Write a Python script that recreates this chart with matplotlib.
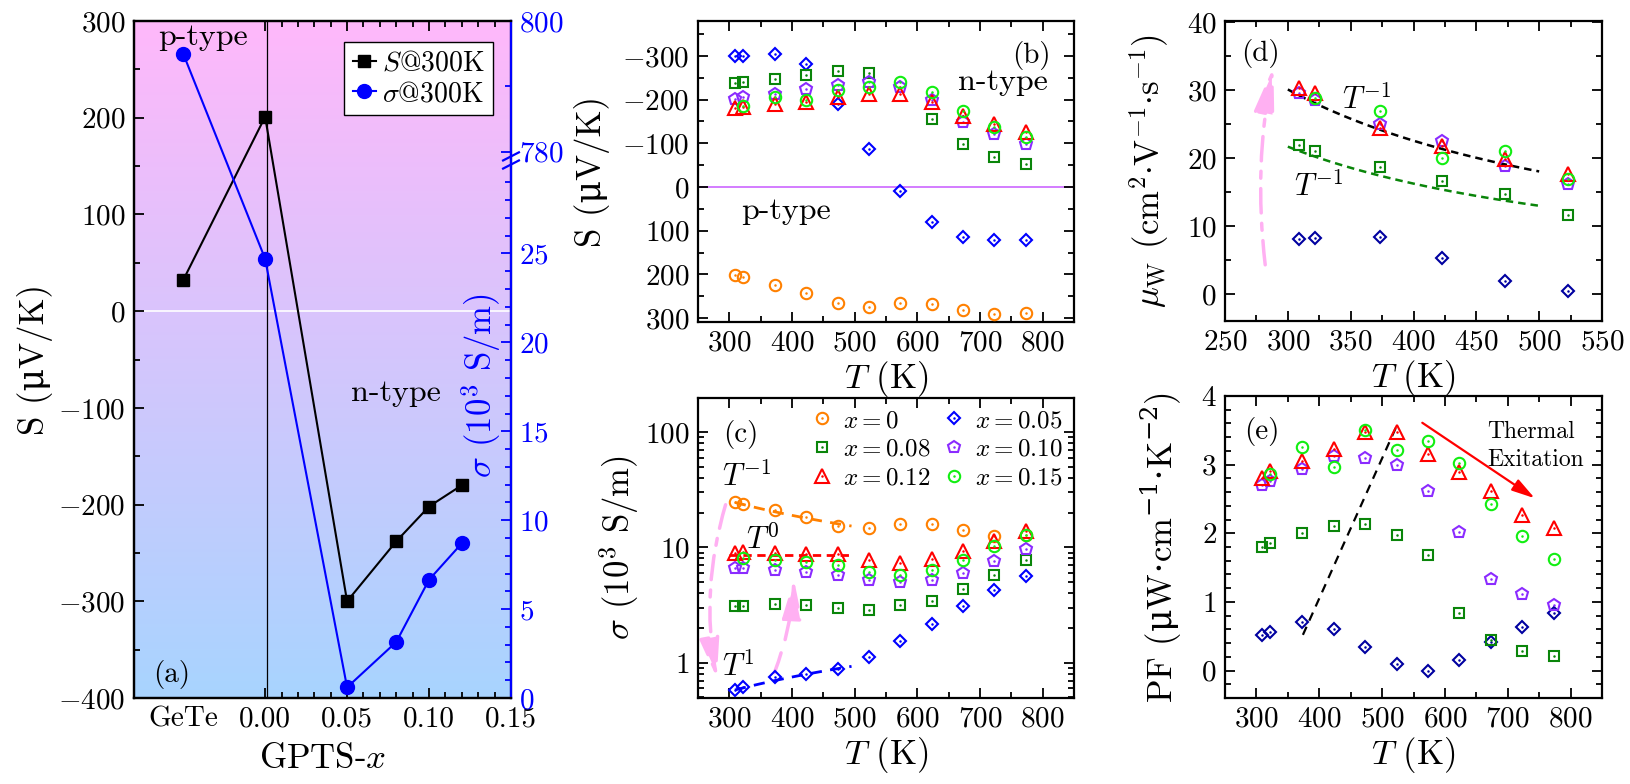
import numpy as np
import matplotlib
matplotlib.use('Agg')
import matplotlib.pyplot as plt
from matplotlib import ticker
from matplotlib.patches import FancyArrowPatch
from matplotlib.lines import Line2D

plt.rcParams['font.family'] = ['cmr10', 'DejaVu Serif']
plt.rcParams['mathtext.fontset'] = 'cm'
plt.rcParams['axes.formatter.use_mathtext'] = True

nan = np.nan

# ---------------- data ----------------
# (a) 300 K properties versus GPTS content
a_pos = [-0.05, 0.00, 0.05, 0.08, 0.10, 0.12]
a_ticks = [-0.05, 0.00, 0.05, 0.10, 0.15]
a_ticklabels = ['GeTe', '0.00', '0.05', '0.10', '0.15']
a_S = [32, 201, -300, -238, -202, -180]          # uV/K
a_sigma = [795, 24.7, 0.6, 3.15, 6.65, 8.7]      # 10^3 S/m

# temperatures (K)
T = [309, 322, 373, 423, 473, 523, 573, 623, 673, 723, 773]

# (b) Seebeck coefficient (uV/K)
S_x000 = [201, 205, 224, 243, 266, 274, 266, 268, 282, 291, 288]
S_x005 = [-300, -300, -305, -281, -190, -87, 9, 80, 115, 121, 122]
S_x008 = [-238, -241, -247, -256, -266, -262, nan, -156, -99, -69, -52]
S_x010 = [-201, -207, -214, -224, -233, -240, -228, -199, -149, -121, -98]
S_x012 = [-180, -184, -189, -195, -205, -212, -212, -194, -163, -144, -127]
S_x015 = [nan, -186, -205, -199, -222, -228, -240, -217, -175, -138, -114]

# (c) electrical conductivity (10^3 S/m)
sig_x000 = [24.5, 23.9, 21.1, 18.4, 15.2, 14.7, 16.0, 15.8, 14.0, 12.5, 12.8]
sig_x005 = [0.58, 0.615, 0.75, 0.79, 0.89, 1.13, 1.54, 2.18, 3.10, 4.24, 5.6]
sig_x008 = [3.12, 3.12, 3.25, 3.16, 2.98, 2.86, 3.16, 3.42, 4.32, 5.75, 7.77]
sig_x010 = [6.62, 6.58, 6.4, 6.07, 5.8, 5.25, 4.97, 5.25, 5.99, 7.66, 9.68]
sig_x012 = [8.93, 9.05, 8.93, 8.8, 8.7, 7.8, 7.3, 7.9, 9.3, 11.4, 13.8]
sig_x015 = [nan, 8.03, 7.77, 7.4, 7.03, 6.07, 5.8, 6.4, 7.8, 10.2, 12.7]

# (d) weighted mobility (cm2/V/s), first six temperatures
T_mu = [309, 322, 373, 423, 473, 523]
mu_x005 = [8.1, 8.3, 8.5, 5.3, 1.9, 0.5]
mu_x008 = [21.9, 21.1, 18.7, 16.7, 14.8, 11.7]
mu_x010 = [29.6, 28.6, 25.0, 22.6, 18.9, 16.2]
mu_x012 = [30.3, 29.6, 24.5, 21.8, 19.9, 17.7]
mu_x015 = [nan, 28.8, 26.9, 20.0, 21.1, 16.9]

# (e) power factor (uW cm^-1 K^-2)
pf_x005 = [0.52, 0.56, 0.71, 0.61, 0.34, 0.09, 0.0, 0.15, 0.41, 0.63, 0.84]
pf_x008 = [1.80, 1.86, 2.00, 2.11, 2.14, 1.98, 1.69, 0.84, 0.44, 0.29, 0.21]
pf_x010 = [2.71, 2.76, 2.94, 3.13, 3.09, 2.99, 2.61, 2.02, 1.34, 1.12, 0.95]
pf_x012 = [2.81, 2.91, 3.06, 3.23, 3.48, 3.47, 3.15, 2.89, 2.61, 2.27, 2.07]
pf_x015 = [nan, 2.86, 3.26, 2.96, 3.50, 3.21, 3.34, 3.03, 2.42, 1.96, 1.63]

# power-law guide lines: (prefactor, exponent, Tmin, Tmax)
fitc_orange = (7570.0, -1, 309, 495)
fitc_red = (8.5, 0, 300, 495)
fitc_blue = (0.001877, 1, 309, 495)
fitd_black = (9030.0, -1, 300, 500)
fitd_green = (6510.0, -1, 300, 500)
# guide line in (e): (T, PF) end points
guide_e_T = [374, 522]
guide_e_pf = [0.52, 3.54]

# ---------------- styles ----------------
STY = {
    'x000': dict(marker='o', color='#FF8000', ms=8.2),
    'x005': dict(marker='D', color='#0000FF', ms=6.6),
    'x008': dict(marker='s', color='#0A850A', ms=7.6),
    'x010': dict(marker='p', color='#8B2BFF', ms=9.2),
    'x012': dict(marker='^', color='#FF0000', ms=9.4),
    'x015': dict(marker='o', color='#11EE11', ms=8.2),
}
NAVY = '#0000A0'
PINK = '#FFB0F2'
TICK = 21
LAB = 25
ANN = 22


def pts(ax, x, y, key, color=None):
    st = STY[key]
    c = color or st['color']
    h1, = ax.plot(x, y, ls='none', marker=st['marker'], ms=st['ms'], mfc='none',
                  mec=c, mew=1.5, zorder=3)
    h2, = ax.plot(x, y, ls='none', marker='o', ms=1.8, mfc=c, mec='none', zorder=3)
    return (h1, h2)


def style(ax):
    ax.tick_params(which='both', direction='in', top=True, right=True,
                   labelsize=TICK, width=1.3, pad=6)
    ax.tick_params(which='major', length=7)
    ax.tick_params(which='minor', length=4)
    for s in ax.spines.values():
        s.set_linewidth(1.6)


def guide(ax, p, **kw):
    A, n, t0, t1 = p
    tt = np.linspace(t0, t1, 60)
    ax.plot(tt, A * tt ** n, **kw)


def arrow(ax, p0, p1, rad, ls, color, lw, hl, hw, ms=20, z=1):
    a = FancyArrowPatch(p0, p1, arrowstyle=f'-|>,head_length={hl},head_width={hw}',
                        connectionstyle=f'arc3,rad={rad}', mutation_scale=ms,
                        color=color, lw=lw, linestyle=ls, shrinkA=0, shrinkB=0, zorder=z)
    ax.add_patch(a)


W, H = 1630, 784
fig = plt.figure(figsize=(W / 100, H / 100), dpi=100)


def add_ax(x0, y0, x1, y1):
    return fig.add_axes([x0 / W, 1 - y1 / H, (x1 - x0) / W, (y1 - y0) / H])


axA = add_ax(134, 21, 511, 698)
axB = add_ax(698, 21, 1074, 322)
axC = add_ax(698, 398, 1074, 698)
axD = add_ax(1225, 21, 1602, 321)
axE = add_ax(1225, 396, 1602, 698)

# ================= (a) =================
ax = axA
g = np.linspace(0, 1, 256)[:, None, None]
top = np.array([255, 184, 250])[None, None, :] / 255
bot = np.array([168, 212, 255])[None, None, :] / 255
ax.imshow(top * (1 - g) + bot * g, extent=[0, 1, 0, 1], transform=ax.transAxes,
          aspect='auto', zorder=0, interpolation='bilinear')
ax.axhline(0, color='white', lw=1.2, zorder=1)
ax.axvline(0.0012, color='black', lw=0.9, zorder=1)
ax.plot(a_pos, a_S, '-s', color='black', ms=8.6, lw=1.5, zorder=3)
ax.set_xlim(-0.08, 0.15)
ax.set_ylim(-400, 300)
style(ax)
ax.tick_params(right=False)
ax.set_xticks(a_ticks)
ax.set_xticklabels(a_ticklabels)
ax.xaxis.set_minor_locator(ticker.FixedLocator(
    [v / 100 for v in range(1, 15) if v % 5 != 0]))
ax.yaxis.set_major_locator(ticker.MultipleLocator(100))
ax.yaxis.set_minor_locator(ticker.MultipleLocator(50))
t0 = ax.xaxis.get_major_ticks()[0]
t0.tick1line.set_visible(False)
t0.tick2line.set_visible(False)
ax.set_xlabel(r'GPTS-$x$', fontsize=LAB, labelpad=8)
ax.set_ylabel('S (μV/K)', fontsize=LAB, labelpad=4)

# broken right axis for sigma
BRK_LO, BRK_HI, K_UP = 30.0, 778.0, 0.367
_xp = [-1e4, BRK_LO, BRK_HI, 1e4]
_fp = [-1e4, BRK_LO, BRK_LO + 1e-4, BRK_LO + 1e-4 + (1e4 - BRK_HI) * K_UP]


def fwd(s):
    return np.interp(s, _xp, _fp)


def inv(v):
    return np.interp(v, _fp, _xp)


ax2 = ax.twinx()
ax2.set_yscale('function', functions=(fwd, inv))
ax2.plot(a_pos, a_sigma, '-o', color='blue', ms=10, lw=1.5, zorder=3)
ax2.set_ylim(0, 800)
ax2.yaxis.set_major_locator(ticker.FixedLocator([0, 5, 10, 15, 20, 25, 780, 800]))
ax2.yaxis.set_minor_locator(ticker.FixedLocator(
    [v for v in range(1, 30) if v % 5 != 0] + [790]))
ax2.yaxis.set_major_formatter(ticker.FuncFormatter(lambda v, p: r'$\mathdefault{%d}$' % v))
ax2.yaxis.set_minor_formatter(ticker.NullFormatter())
ax2.tick_params(axis='y', which='both', direction='in', colors='blue',
                labelsize=TICK, width=1.3, pad=6)
ax2.tick_params(axis='y', which='major', length=7)
ax2.tick_params(axis='y', which='minor', length=4)
for s in ax2.spines.values():
    s.set_linewidth(1.6)
ax2.spines['right'].set_color('blue')
# break marks
for yb in (0.788, 0.800):
    ax2.plot([0.979, 1.021], [yb - 0.006, yb + 0.006], color='blue', lw=1.6,
             transform=ax2.transAxes, clip_on=False, zorder=5)
ax2.text(0.92, 0.461, r'$\sigma$ (10$^{\mathrm{3}}$ S/m)', color='blue', fontsize=LAB,
         rotation=90, ha='center', va='center', transform=ax2.transAxes)
h1 = Line2D([], [], color='black', marker='s', ms=8.6, lw=1.5)
h2 = Line2D([], [], color='blue', marker='o', ms=10, lw=1.5)
leg = ax2.legend([h1, h2], [r'$S$@300K', r'$\sigma$@300K'], loc='upper right',
                 bbox_to_anchor=(0.952, 0.969), fontsize=20, frameon=True, fancybox=False,
                 edgecolor='black', framealpha=1, handlelength=0.85, handletextpad=0.2,
                 borderpad=0.3, labelspacing=0.15, borderaxespad=0)
leg.get_frame().set_linewidth(1.0)
ax.text(0.182, 0.976, 'p-type', fontsize=23, ha='center', va='center', transform=ax.transAxes)
ax.text(0.695, 0.45, 'n-type', fontsize=23, ha='center', va='center', transform=ax.transAxes)
ax.text(0.10, 0.034, '(a)', fontsize=21, ha='center', va='center', transform=ax.transAxes)

# ================= (b) =================
ax = axB
ax.axhline(0, color='#CC66FF', lw=1.2, zorder=1)
pts(ax, T, S_x000, 'x000')
pts(ax, T, S_x005, 'x005')
pts(ax, T, S_x008, 'x008')
pts(ax, T, S_x010, 'x010')
pts(ax, T, S_x012, 'x012')
pts(ax, T, S_x015, 'x015')
ax.set_xlim(250, 850)
ax.set_ylim(309, -380)
style(ax)
ax.xaxis.set_major_locator(ticker.MultipleLocator(100))
ax.xaxis.set_minor_locator(ticker.MultipleLocator(50))
ax.yaxis.set_major_locator(ticker.MultipleLocator(100))
ax.yaxis.set_minor_locator(ticker.MultipleLocator(50))
ax.set_xlabel(r'$T$ (K)', fontsize=LAB, labelpad=2)
ax.set_ylabel('S (μV/K)', fontsize=LAB, labelpad=9)
ax.text(0.886, 0.887, '(b)', fontsize=21, ha='center', va='center', transform=ax.transAxes)
ax.text(0.81, 0.798, 'n-type', fontsize=23, ha='center', va='center', transform=ax.transAxes)
ax.text(0.235, 0.367, 'p-type', fontsize=23, ha='center', va='center', transform=ax.transAxes)

# ================= (c) =================
ax = axC
ax.set_yscale('log')
guide(ax, fitc_orange, color='#FF8000', ls=(0, (4, 3)), lw=2, zorder=2)
guide(ax, fitc_red, color='#FF0000', ls=(0, (3, 2)), lw=2, zorder=2)
guide(ax, fitc_blue, color='#0000FF', ls=(0, (4, 3)), lw=2, zorder=2)
hc = {}
hc['x000'] = pts(ax, T, sig_x000, 'x000')
hc['x005'] = pts(ax, T, sig_x005, 'x005')
hc['x008'] = pts(ax, T, sig_x008, 'x008')
hc['x010'] = pts(ax, T, sig_x010, 'x010')
hc['x012'] = pts(ax, T, sig_x012, 'x012')
hc['x015'] = pts(ax, T, sig_x015, 'x015')
ax.set_xlim(250, 850)
ax.set_ylim(0.494, 197)
style(ax)
ax.xaxis.set_major_locator(ticker.MultipleLocator(100))
ax.xaxis.set_minor_locator(ticker.MultipleLocator(50))
ax.yaxis.set_major_formatter(ticker.FuncFormatter(lambda v, p: r'$\mathdefault{%g}$' % v))
ax.yaxis.set_minor_formatter(ticker.NullFormatter())
ax.set_xlabel(r'$T$ (K)', fontsize=LAB, labelpad=2)
ax.set_ylabel(r'$\sigma$ (10$^{\mathrm{3}}$ S/m)', fontsize=LAB, labelpad=3)
order = ['x000', 'x008', 'x012', 'x005', 'x010', 'x015']
lab = {'x000': r'$x=\mathrm{0}$', 'x005': r'$x=\mathrm{0.05}$',
       'x008': r'$x=\mathrm{0.08}$', 'x010': r'$x=\mathrm{0.10}$',
       'x012': r'$x=\mathrm{0.12}$', 'x015': r'$x=\mathrm{0.15}$'}
ax.legend([hc[k] for k in order], [lab[k] for k in order], ncol=2, loc='upper left',
          bbox_to_anchor=((810 - 698.4) / 376, 0.961), fontsize=18, frameon=False,
          handlelength=1.0, handletextpad=0.35, columnspacing=0.4, labelspacing=0.25,
          borderaxespad=0, borderpad=0)
ax.text(0.115, 0.878, '(c)', fontsize=21, ha='center', va='center', transform=ax.transAxes)
ax.text(0.065, 0.739, r'$T^{-\mathrm{1}}$', fontsize=ANN, ha='left', va='center', transform=ax.transAxes)
ax.text(0.127, 0.528, r'$T^{\mathrm{0}}$', fontsize=ANN, ha='left', va='center', transform=ax.transAxes)
ax.text(0.065, 0.105, r'$T^{\mathrm{1}}$', fontsize=ANN, ha='left', va='center', transform=ax.transAxes)
arrow(ax, (294, 23.4), (280, 0.74), 0.12, (0, (7, 3, 2, 3)), PINK, 2.5, 1.2, 0.3)
arrow(ax, (372, 0.82), (403, 5.3), 0.08, (0, (6, 4)), PINK, 2.5, 1.2, 0.3)

# ================= (d) =================
ax = axD
guide(ax, fitd_black, color='black', ls=(0, (3, 2)), lw=1.8, zorder=2)
guide(ax, fitd_green, color='#0A850A', ls=(0, (3, 2)), lw=1.8, zorder=2)
pts(ax, T_mu, mu_x005, 'x005', color=NAVY)
pts(ax, T_mu, mu_x008, 'x008')
pts(ax, T_mu, mu_x010, 'x010')
pts(ax, T_mu, mu_x012, 'x012')
pts(ax, T_mu, mu_x015, 'x015')
ax.set_xlim(250, 550)
ax.set_ylim(-3.9, 40.15)
style(ax)
ax.xaxis.set_major_locator(ticker.MultipleLocator(50))
ax.xaxis.set_minor_locator(ticker.MultipleLocator(25))
ax.yaxis.set_major_locator(ticker.MultipleLocator(10))
ax.yaxis.set_minor_locator(ticker.MultipleLocator(5))
ax.set_xlabel(r'$T$ (K)', fontsize=LAB, labelpad=2)
ax.set_ylabel(r'$\mu_{\rm W}$ (cm$^{\mathrm{2}}{\cdot}$V$^{-\mathrm{1}}{\cdot}$s$^{-\mathrm{1}}$)',
              fontsize=LAB, labelpad=11)
ax.text(0.093, 0.892, '(d)', fontsize=21, ha='center', va='center', transform=ax.transAxes)
ax.text(343, 28.7, r'$T^{-\mathrm{1}}$', fontsize=ANN, ha='left', va='center')
ax.text(305, 15.9, r'$T^{-\mathrm{1}}$', fontsize=ANN, ha='left', va='center')
arrow(ax, (282, 4.35), (288.5, 33.4), -0.08, (0, (7, 3, 2, 3)), PINK, 2.5, 1.4, 0.31)

# ================= (e) =================
ax = axE
ax.plot(guide_e_T, guide_e_pf, color='black', ls=(0, (4, 3)), lw=1.6, zorder=2)
pts(ax, T, pf_x005, 'x005', color=NAVY)
pts(ax, T, pf_x008, 'x008')
pts(ax, T, pf_x010, 'x010')
pts(ax, T, pf_x012, 'x012')
pts(ax, T, pf_x015, 'x015')
ax.set_xlim(250, 850)
ax.set_ylim(-0.4, 4.0)
style(ax)
ax.xaxis.set_major_locator(ticker.MultipleLocator(100))
ax.xaxis.set_minor_locator(ticker.MultipleLocator(50))
ax.yaxis.set_major_locator(ticker.MultipleLocator(1))
ax.yaxis.set_minor_locator(ticker.MultipleLocator(0.2))
ax.set_xlabel(r'$T$ (K)', fontsize=LAB, labelpad=2)
ax.set_ylabel(r'PF ($\mathrm{\mu}$W${\cdot}$cm$^{-1}{\cdot}$K$^{-2}$)', fontsize=LAB,
              labelpad=12, math_fontfamily='dejavuserif')
ax.text(0.098, 0.882, '(e)', fontsize=21, ha='center', va='center', transform=ax.transAxes)
ax.text(0.696, 0.835, 'Thermal\nExitation', fontsize=17, ha='left', va='center',
        linespacing=1.3, transform=ax.transAxes)
arrow(ax, (564, 3.61), (743, 2.51), 0.0, '-', '#FF0000', 1.6, 1.0, 0.28, ms=14, z=4)

fig.savefig('out.png', dpi=100)
